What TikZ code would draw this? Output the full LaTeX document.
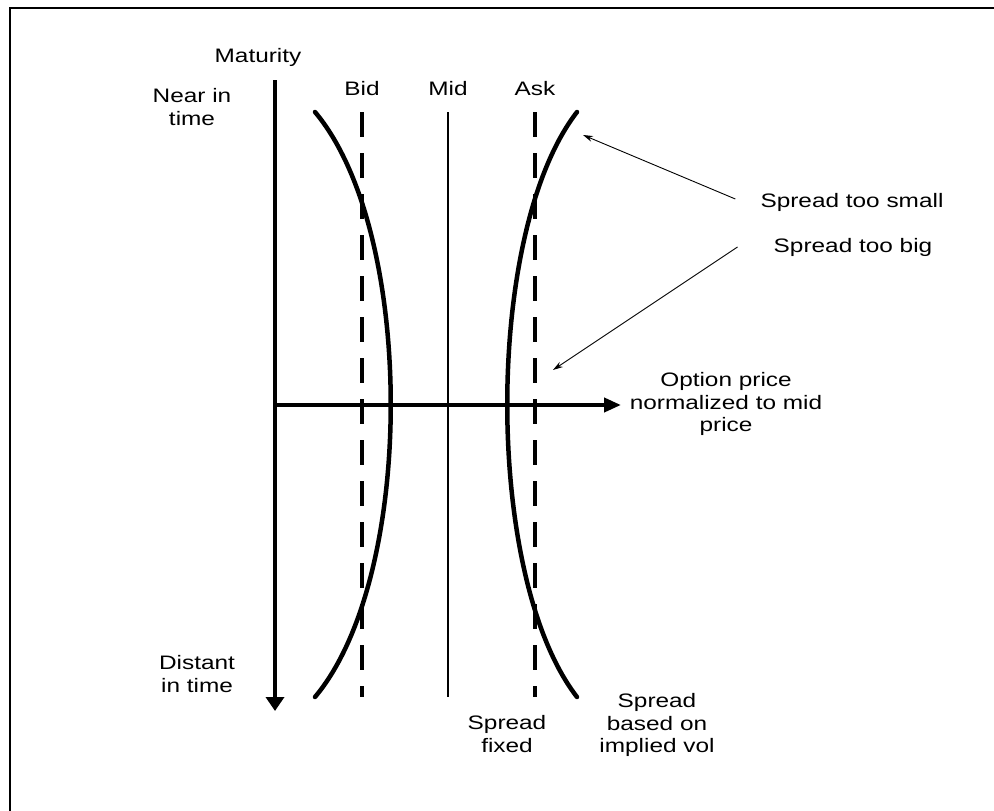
\documentclass[tikz,border=0pt]{standalone}
\usepackage{fontspec}
\setmainfont{Liberation Sans}[FakeStretch=1.25]
\usetikzlibrary{arrows.meta,calc}
\begin{document}
\begin{tikzpicture}[x=1pt,y=-1pt,
  lbl/.style={inner sep=0pt, align=center, font=\fontsize{19.5}{22.5}\selectfont},
  axis/.style={line width=4pt},
  smile/.style={line width=4.5pt, line cap=round},
  quote/.style={line width=4pt, dash pattern=on 25pt off 16pt},
  midline/.style={line width=1.8pt},
  ann/.style={line width=0.9pt, -{Stealth[length=10pt,width=6pt]}}]
\useasboundingbox (0,0) rectangle (994,811);

% frame
\draw[line width=2.6pt] (10,811) -- (10,8) -- (994,8);

% axes
\draw[axis, -{Triangle[length=14pt,width=18pt]}] (275,80) -- (275,711);
\draw[axis, -{Triangle[length=17pt,width=14pt]}] (275,405) -- (621,405);

% bid, mid and ask lines
\draw[quote] (362,112) -- (362,697);
\draw[midline] (448,112) -- (448,697);
\draw[quote] (535,112) -- (535,697);

% spread curves based on implied vol
\draw[smile] (315,112) .. controls (416,232) and (416,577) .. (315,697);
\draw[smile] (577,112) .. controls (484,232) and (484,577) .. (577,697);

% labels
\node[lbl] (maturity) at (258,57) {Maturity};
\node[lbl] (near) at (192,107) {Near in\\time};
\node[lbl] (distant) at (197,674) {Distant\\in time};
\node[lbl] (bid) at (362,89) {Bid};
\node[lbl] (mid) at (448,89) {Mid};
\node[lbl] (ask) at (535,89) {Ask};
\node[lbl] (small) at (852,202) {Spread too small};
\node[lbl] (big) at (853,247) {Spread too big};
\node[lbl] (option) at (726,404) {Option price\\normalized to mid\\price};
\node[lbl] (fixed) at (507,734) {Spread\\fixed};
\node[lbl] (implied) at (657,725) {Spread\\based on\\implied vol};

% annotation arrows
\coordinate (smalltip) at (583,135);
\coordinate (bigtip) at (553,370);
\draw[ann] ($(small.west)+(-25,-3)$) -- (smalltip);
\draw[ann] ($(big.west)+(-36,0)$) -- (bigtip);
\end{tikzpicture}
\end{document}
